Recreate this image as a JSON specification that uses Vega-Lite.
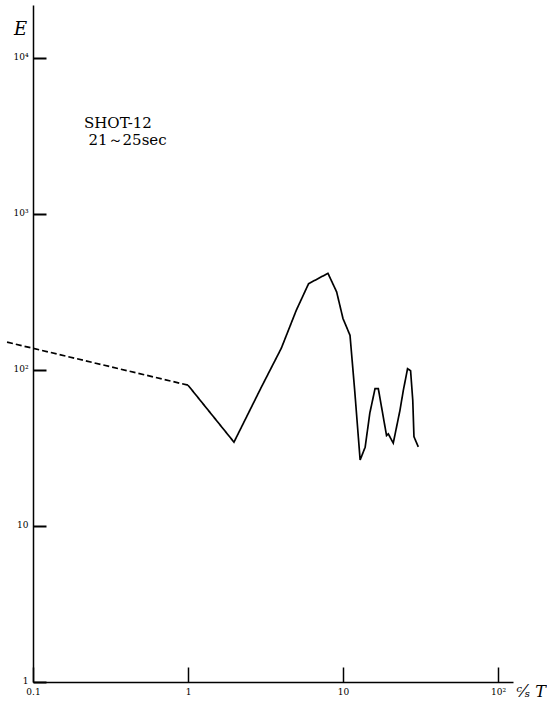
{
  "$schema": "https://vega.github.io/schema/vega-lite/v6.json",
  "width": 480,
  "height": 677,
  "autosize": {"type": "none"},
  "padding": {"left": 33, "top": 5, "right": 34, "bottom": 26},
  "background": "white",
  "title": {
    "text": ["SHOT-12", "\u200b\u2009\u200a21～25sec"],
    "anchor": "start",
    "frame": "group",
    "orient": "top",
    "dx": 51,
    "offset": -143,
    "font": "DejaVu Serif",
    "fontSize": 15,
    "fontWeight": "normal",
    "lineHeight": 17,
    "color": "black"
  },
  "config": {
    "view": {"stroke": null},
    "axis": {"domainColor": "black", "tickColor": "black", "labelColor": "black", "titleColor": "black", "grid": false}
  },
  "data": {
    "values": [
      {"f": 0.068, "e": 151, "seg": "dash"},
      {"f": 1.0, "e": 80, "seg": "dash"},
      {"f": 1.0, "e": 80, "seg": "solid"},
      {"f": 1.98, "e": 34.5, "seg": "solid"},
      {"f": 2.98, "e": 78, "seg": "solid"},
      {"f": 4.0, "e": 138, "seg": "solid"},
      {"f": 5.0, "e": 242, "seg": "solid"},
      {"f": 6.0, "e": 358, "seg": "solid"},
      {"f": 8.0, "e": 417, "seg": "solid"},
      {"f": 9.1, "e": 317, "seg": "solid"},
      {"f": 10.0, "e": 214, "seg": "solid"},
      {"f": 11.1, "e": 167, "seg": "solid"},
      {"f": 11.9, "e": 74, "seg": "solid"},
      {"f": 12.9, "e": 26.5, "seg": "solid"},
      {"f": 13.9, "e": 32, "seg": "solid"},
      {"f": 14.9, "e": 53, "seg": "solid"},
      {"f": 16.1, "e": 76, "seg": "solid"},
      {"f": 16.9, "e": 76, "seg": "solid"},
      {"f": 19.1, "e": 38, "seg": "solid"},
      {"f": 19.6, "e": 39, "seg": "solid"},
      {"f": 21.1, "e": 34, "seg": "solid"},
      {"f": 23.3, "e": 55, "seg": "solid"},
      {"f": 24.5, "e": 74, "seg": "solid"},
      {"f": 26.1, "e": 102, "seg": "solid"},
      {"f": 27.3, "e": 99, "seg": "solid"},
      {"f": 28.2, "e": 64, "seg": "solid"},
      {"f": 28.7, "e": 37.4, "seg": "solid"},
      {"f": 30.6, "e": 32.2, "seg": "solid"}
    ]
  },
  "mark": {"type": "line", "color": "black", "strokeWidth": 1.7, "clip": false},
  "encoding": {
    "x": {
      "field": "f",
      "type": "quantitative",
      "scale": {"type": "log", "domain": [0.1, 125], "nice": false, "zero": false},
      "axis": {
        "values": [0.1, 1, 10, 100],
        "labelExpr": "datum.value < 0.5 ? '0.1' : datum.value < 5 ? '1' : datum.value < 50 ? '10' : '10²'",
        "tickSize": -15,
        "tickWidth": 1.5,
        "domainWidth": 1.5,
        "labelFont": "DejaVu Serif",
        "labelFontSize": 9,
        "labelPadding": 20,
        "labelFlush": false,
        "labelOverlap": false,
        "title": "ᶜ⁄ₛ T",
        "titleFont": "DejaVu Serif",
        "titleFontSize": 16,
        "titleFontStyle": "italic",
        "titleFontWeight": "normal",
        "titleAlign": "left",
        "titleBaseline": "alphabetic",
        "titleAnchor": "start",
        "titleX": 483,
        "titleY": 14
      }
    },
    "y": {
      "field": "e",
      "type": "quantitative",
      "scale": {"type": "log", "domain": [1, 21900], "nice": false, "zero": false},
      "axis": {
        "values": [1, 10, 100, 1000, 10000],
        "labelExpr": "datum.value < 5 ? '1' : datum.value < 50 ? '10' : datum.value < 500 ? '10²' : datum.value < 5000 ? '10³' : '10⁴'",
        "tickSize": -13,
        "tickWidth": 2,
        "domainWidth": 1.5,
        "labelFont": "DejaVu Serif",
        "labelFontSize": 9,
        "labelPadding": 18,
        "labelOffset": -2,
        "labelFlush": false,
        "labelOverlap": false,
        "title": "E",
        "titleAngle": 0,
        "titleFont": "DejaVu Serif",
        "titleFontSize": 18,
        "titleFontStyle": "italic",
        "titleFontWeight": "normal",
        "titleAlign": "center",
        "titleBaseline": "alphabetic",
        "titleX": -13,
        "titleY": 29
      }
    },
    "strokeDash": {
      "field": "seg",
      "type": "nominal",
      "scale": {"domain": ["dash", "solid"], "range": [[6, 3], [1, 0]]},
      "legend": null
    }
  }
}
